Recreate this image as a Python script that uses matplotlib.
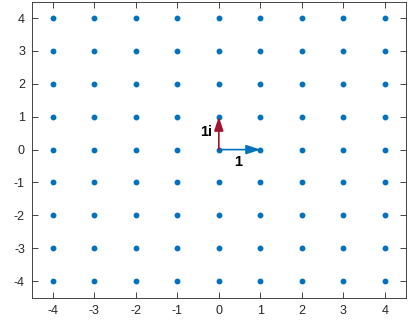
import matplotlib
matplotlib.use("Agg")
import matplotlib.pyplot as plt
import numpy as np

plt.rcParams['font.family'] = ['Liberation Sans', 'DejaVu Sans']

grid_vals = [-4, -3, -2, -1, 0, 1, 2, 3, 4]
ticks = [-4, -3, -2, -1, 0, 1, 2, 3, 4]
vec_real = (1, 0)
vec_imag = (0, 1)
label_real = "1"
label_imag = "1i"

blue = '#0072BD'
red = '#A2142F'

fig = plt.figure(figsize=(4.09, 3.2), dpi=100)
ax = fig.add_axes([0.078, 0.07, 0.914, 0.925])

X, Y = np.meshgrid(grid_vals, grid_vals)
ax.plot(X.ravel(), Y.ravel(), 'o', color=blue, markersize=3.2, linestyle='none')

style = '-|>,head_length=0.6,head_width=0.2'
ax.annotate('', xy=vec_real, xytext=(0, 0),
            arrowprops=dict(arrowstyle=style, color=blue, lw=1.2,
                            mutation_scale=14, shrinkA=0, shrinkB=0))
ax.annotate('', xy=vec_imag, xytext=(0, 0),
            arrowprops=dict(arrowstyle=style, color=red, lw=1.2,
                            mutation_scale=14, shrinkA=0, shrinkB=0))
ax.text(0.46, -0.38, label_real, fontsize=10.5, fontweight='bold', ha='center', va='center')
ax.text(-0.17, 0.55, label_imag, fontsize=10.5, fontweight='bold', ha='right', va='center')

ax.set_xlim(-4.5, 4.5)
ax.set_ylim(-4.5, 4.5)
ax.set_xticks(ticks)
ax.set_yticks(ticks)
ax.set_xticklabels([str(t) for t in ticks])
ax.set_yticklabels([str(t) for t in ticks])
ax.tick_params(direction='in', top=True, right=True, length=4, width=0.6,
               labelsize=9, colors='#262626', pad=5)
for s in ax.spines.values():
    s.set_color('#262626')
    s.set_linewidth(0.6)

fig.savefig('out.png', dpi=100)
